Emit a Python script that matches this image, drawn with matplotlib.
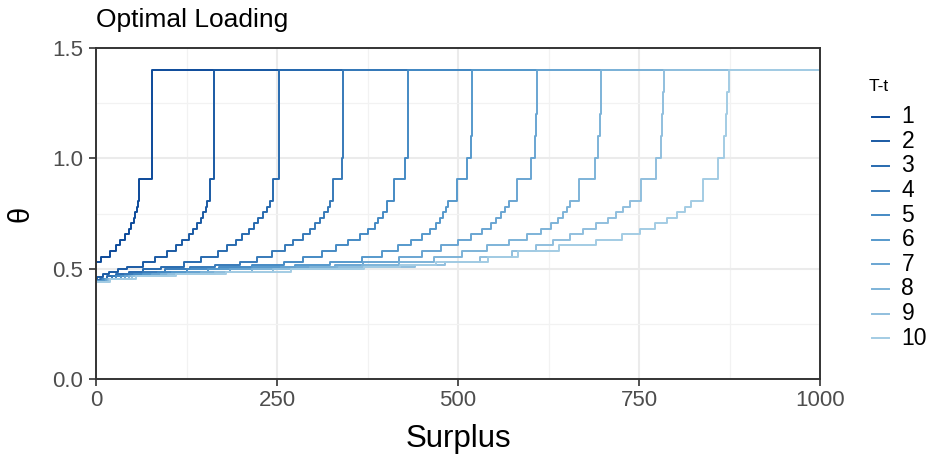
import matplotlib
matplotlib.use("Agg")
import matplotlib.pyplot as plt
from matplotlib.colors import LinearSegmentedColormap
from matplotlib.lines import Line2D
from matplotlib.ticker import MultipleLocator

plt.rcParams["font.family"] = ["Liberation Sans", "DejaVu Sans"]

# step curves: surplus where theta jumps, theta level after the jump
surplus_1 = [0, 7, 19, 27, 33, 40, 45, 48, 52, 54, 56, 58, 60, 78, 1000]
theta_1 = [0.53, 0.555, 0.58, 0.605, 0.63, 0.655, 0.68, 0.705, 0.73, 0.755, 0.78, 0.805, 0.905, 1.4, 0.905]

surplus_2 = [0, 1, 9, 18, 30, 43, 65, 82, 98, 111, 119, 128, 134, 139, 145, 148, 152, 154, 158, 163, 1000]
theta_2 = [0.452, 0.464, 0.476, 0.486, 0.497, 0.509, 0.53, 0.555, 0.58, 0.605, 0.63, 0.655, 0.68, 0.705,
           0.73, 0.755, 0.78, 0.805, 0.905, 1.4, 0.905]

surplus_3 = [0, 5, 15, 28, 45, 65, 90, 121, 145, 168, 181, 193, 202, 211, 218, 224, 230, 236, 240, 244, 253, 1000]
theta_3 = [0.447, 0.455, 0.465, 0.475, 0.487, 0.497, 0.509, 0.53, 0.555, 0.58, 0.605, 0.63, 0.655, 0.68,
           0.705, 0.73, 0.755, 0.78, 0.805, 0.905, 1.4, 0.905]

surplus_4 = [0, 8, 22, 40, 65, 95, 130, 165, 199, 222, 243, 261, 272, 286, 296, 303, 309, 315, 320, 323, 327,
             339.5, 341.5, 1000]
theta_4 = [0.445, 0.455, 0.465, 0.475, 0.487, 0.497, 0.509, 0.517, 0.53, 0.555, 0.58, 0.605, 0.63, 0.655,
           0.68, 0.705, 0.73, 0.755, 0.78, 0.805, 0.905, 1.0, 1.4, 0.905]

surplus_5 = [0, 10, 28, 52, 85, 125, 170, 215, 259, 286, 312, 332, 348, 365, 376, 385, 390, 397, 402, 412, 427,
             430.5, 431.4, 1000]
theta_5 = [0.443, 0.455, 0.465, 0.475, 0.487, 0.497, 0.509, 0.517, 0.53, 0.555, 0.58, 0.605, 0.63, 0.655,
           0.68, 0.705, 0.73, 0.755, 0.805, 0.905, 1.0, 1.3, 1.4, 0.905]

surplus_6 = [0, 12, 35, 65, 105, 155, 215, 275, 323, 367, 395, 417, 435, 450, 461, 469, 475, 479, 483, 486.6,
             498, 513, 518, 519.5, 520, 1000]
theta_6 = [0.442, 0.455, 0.465, 0.475, 0.487, 0.497, 0.509, 0.517, 0.53, 0.555, 0.58, 0.605, 0.63, 0.655,
           0.68, 0.705, 0.73, 0.755, 0.78, 0.805, 0.905, 1.0, 1.1, 1.3, 1.4, 0.905]

surplus_7 = [0, 14, 40, 78, 125, 185, 255, 330, 369, 418, 450, 477, 500, 518, 533, 545, 553, 560, 565, 570,
             582, 601, 606, 608, 609.5, 1000]
theta_7 = [0.441, 0.455, 0.465, 0.475, 0.487, 0.497, 0.509, 0.517, 0.53, 0.555, 0.58, 0.605, 0.63, 0.655,
           0.68, 0.705, 0.73, 0.755, 0.78, 0.805, 0.905, 1.0, 1.1, 1.2, 1.4, 0.905]

surplus_8 = [0, 16, 45, 90, 145, 215, 295, 367, 418, 467, 505, 540, 570, 595, 615, 628, 638, 645, 650, 655,
             667, 689, 694, 696, 698, 1000]
theta_8 = [0.44, 0.455, 0.465, 0.475, 0.487, 0.497, 0.509, 0.517, 0.53, 0.555, 0.58, 0.605, 0.63, 0.655,
           0.68, 0.705, 0.73, 0.755, 0.78, 0.805, 0.905, 1.0, 1.1, 1.2, 1.4, 0.905]

surplus_9 = [0, 18, 50, 100, 165, 245, 335, 440, 482, 530, 575, 608, 631, 655, 673, 691, 707, 718, 728, 737.6,
             752.8, 773.5, 780.4, 782.2, 783.6, 785, 1000]
theta_9 = [0.44, 0.455, 0.465, 0.475, 0.487, 0.497, 0.509, 0.517, 0.53, 0.555, 0.58, 0.605, 0.63, 0.655,
           0.68, 0.705, 0.73, 0.755, 0.78, 0.805, 0.905, 1.0, 1.1, 1.2, 1.3, 1.4, 0.905]

surplus_10 = [0, 20, 55, 110, 180, 270, 370, 420, 470, 541, 583, 640, 690, 726, 751, 772, 788, 802, 813.5, 822,
              838, 859.5, 868, 870, 872, 874, 1000]
theta_10 = [0.44, 0.455, 0.465, 0.475, 0.487, 0.497, 0.509, 0.517, 0.53, 0.555, 0.58, 0.605, 0.63, 0.655,
            0.68, 0.705, 0.73, 0.755, 0.78, 0.805, 0.905, 1.0, 1.1, 1.2, 1.3, 1.4, 0.905]

etiquetas = ["1", "2", "3", "4", "5", "6", "7", "8", "9", "10"]
curvas = [
    (surplus_1, theta_1), (surplus_2, theta_2), (surplus_3, theta_3), (surplus_4, theta_4),
    (surplus_5, theta_5), (surplus_6, theta_6), (surplus_7, theta_7), (surplus_8, theta_8),
    (surplus_9, theta_9), (surplus_10, theta_10),
]

x_ticks = [0, 250, 500, 750, 1000]
y_ticks = [0.0, 0.5, 1.0, 1.5]

color_texto = "#4D4D4D"
color_borde = "#333333"
W, H = 933, 459


def fx(px):
    return px / W


def fy(py):
    return 1 - py / H


def aplicar_estilo_bw(ax):
    ax.set_facecolor("white")
    ax.xaxis.set_minor_locator(MultipleLocator(125))
    ax.yaxis.set_minor_locator(MultipleLocator(0.25))
    ax.grid(True, which="major", color="#EBEBEB", linewidth=1.5)
    ax.grid(True, which="minor", color="#F2F2F2", linewidth=0.9)
    ax.set_axisbelow(True)
    for lado in ax.spines.values():
        lado.set_color(color_borde)
        lado.set_linewidth(1.4)
    ax.tick_params(which="major", direction="out", length=5, width=1.2, color=color_borde,
                   labelsize=16, labelcolor=color_texto)
    ax.tick_params(axis="y", which="major", pad=4.5)
    ax.tick_params(axis="x", which="major", pad=3)
    ax.tick_params(which="minor", length=0)


fig = plt.figure(figsize=(W / 100, H / 100), dpi=100)
ax = fig.add_axes([fx(96), fy(379), fx(820 - 96), (379 - 48) / H])

paleta = LinearSegmentedColormap.from_list("azules", ["#0C4A9A", "#4C92C9", "#A3CCE4"])
colores = [paleta(i / (len(curvas) - 1)) for i in range(len(curvas))]
for (xs, ys), color in zip(curvas, colores):
    ax.step(xs, ys, where="post", color=color, linewidth=1.4)

ax.set_xlim(0, 1000)
ax.set_ylim(0, 1.5)
ax.set_xticks(x_ticks)
ax.set_xticklabels([str(v) for v in x_ticks])
ax.set_yticks(y_ticks)
ax.set_yticklabels([f"{v:.1f}" for v in y_ticks])
aplicar_estilo_bw(ax)

# titulos y ejes
fig.text(fx(96), fy(26.5), "Optimal Loading", fontsize=19, color="black", ha="left", va="baseline")
fig.text(fx(458), fy(439), "Surplus", fontsize=22.5, color="black", ha="center", va="center")
fig.text(fx(21), fy(213.5), "θ", fontsize=21, color="black", ha="center", va="center", rotation=90)

# leyenda
fig.text(fx(869), fy(86.5), "T-t", fontsize=12.5, color="black", ha="left", va="center")
for i, (etiqueta, color) in enumerate(zip(etiquetas, colores)):
    y_px = 116.7 + 24.6 * i
    fig.add_artist(Line2D([fx(871.5), fx(888.5)], [fy(y_px), fy(y_px)], color=color, linewidth=1.4))
    fig.text(fx(901.5), fy(y_px), etiqueta, fontsize=16.5, color="black", ha="left", va="center")

fig.savefig("out.png", dpi=100)
